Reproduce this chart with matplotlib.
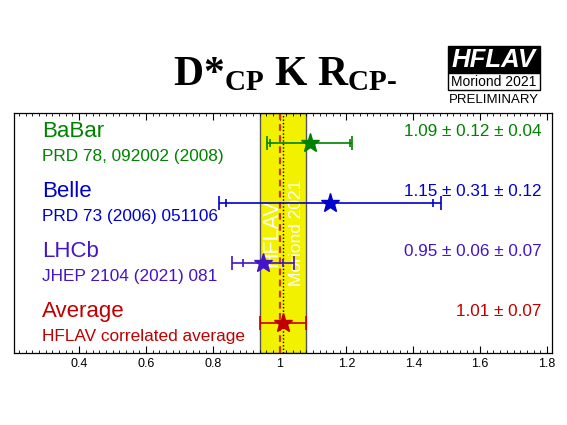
import numpy as np
import matplotlib
matplotlib.use('Agg')
import matplotlib.pyplot as plt
from matplotlib.patches import Rectangle
from matplotlib.ticker import MultipleLocator

# Dados
experimentos = ['BaBar', 'Belle', 'LHCb', 'Average']
referencias = ['PRD 78, 092002 (2008)', 'PRD 73 (2006) 051106',
               'JHEP 2104 (2021) 081', 'HFLAV correlated average']
valores = [1.09, 1.15, 0.95, 1.01]
erro_stat = [0.12, 0.31, 0.06, 0.07]
erro_syst = [0.04, 0.12, 0.07, 0.0]
textos_valor = ['1.09 ± 0.12 ± 0.04', '1.15 ± 0.31 ± 0.12',
                '0.95 ± 0.06 ± 0.07', '1.01 ± 0.07']
cores = ['#008200', '#0000cc', '#4414c8', '#c00000']
media, media_err = 1.01, 0.07
ticks_x = [0.4, 0.6, 0.8, 1.0, 1.2, 1.4, 1.6, 1.8]
ticks_lbl = ['0.4', '0.6', '0.8', '1', '1.2', '1.4', '1.6', '1.8']

plt.rcParams['font.family'] = ['Liberation Sans', 'DejaVu Sans']
plt.rcParams['mathtext.fontset'] = 'custom'
plt.rcParams['mathtext.rm'] = 'Liberation Serif:bold'
plt.rcParams['mathtext.bf'] = 'Liberation Serif:bold'
plt.rcParams['mathtext.it'] = 'Liberation Serif:bold'

fig = plt.figure(figsize=(5.67, 4.25), dpi=100)
ax = fig.add_axes([0.0247, 0.1694, 0.9488, 0.5647])

# Faixa da média
ax.add_patch(Rectangle((media - media_err, 0), 2 * media_err, 4,
                       facecolor='#f2f200', edgecolor='#555555', lw=1.0, zorder=1))
ax.axvline(1.0, color='#cc3a00', ls=(0, (3, 2)), lw=1.6, zorder=2)
ax.axvline(media, color='black', ls=(0, (1, 1.5)), lw=1.0, zorder=2)
ax.text(0.975, 2.0, 'HFLAV', rotation=90, color='white', fontsize=15.5,
        ha='center', va='center', zorder=2)
ax.text(1.05, 2.0, 'Moriond 2021', rotation=90, color='white', fontsize=12.5,
        ha='center', va='center', zorder=2)

ys = [3.5, 2.5, 1.5, 0.5]
for i in range(4):
    y = ys[i]
    v = valores[i]
    tot = np.hypot(erro_stat[i], erro_syst[i])
    c = cores[i]
    ax.errorbar(v, y, xerr=tot, fmt='none', ecolor=c, elinewidth=1.2,
                capsize=5, capthick=1.2, zorder=3)
    if erro_syst[i] > 0:
        ax.plot([v - erro_stat[i], v + erro_stat[i]], [y, y], '|', color=c,
                markersize=6, mew=1.2, zorder=3)
    ax.plot(v, y, marker='*', color=c, markersize=14, zorder=4)
    ax.text(0.289, y + 0.2, experimentos[i], color=c, fontsize=16,
            ha='left', va='center')
    ax.text(0.289, y - 0.23, referencias[i], color=c, fontsize=12.4,
            ha='left', va='center')
    ax.text(1.783, y + 0.2, textos_valor[i], color=c, fontsize=12.3,
            ha='right', va='center')

ax.set_xlim(0.205, 1.815)
ax.set_ylim(0, 4)
ax.set_yticks([])
ax.set_xticks(ticks_x)
ax.set_xticklabels(ticks_lbl)
ax.xaxis.set_minor_locator(MultipleLocator(0.02))
ax.tick_params(axis='x', which='both', direction='in', top=True, labelsize=9)
ax.tick_params(axis='x', which='major', length=5)
ax.tick_params(axis='x', which='minor', length=2.5)
for s in ax.spines.values():
    s.set_linewidth(0.9)

# Título
fig.text(0.502, 0.80, r'D*$_{\mathrm{CP}}$ K R$_{\mathrm{CP\text{-}}}$',
         fontsize=30, fontweight='bold', family='Liberation Serif',
         ha='center', va='baseline')

# Logo HFLAV
fig.patches.append(Rectangle((448 / 567, 1 - 73 / 425), 92 / 567, 27 / 425,
                             transform=fig.transFigure, facecolor='black',
                             edgecolor='black', lw=1))
fig.patches.append(Rectangle((448 / 567, 1 - 90 / 425), 92 / 567, 17 / 425,
                             transform=fig.transFigure, facecolor='white',
                             edgecolor='black', lw=1))
fig.text(494 / 567, 1 - 60 / 425, 'HFLAV', color='white', fontsize=18.5,
         fontweight='bold', style='italic', ha='center', va='center')
fig.text(494 / 567, 1 - 81.5 / 425, 'Moriond 2021', color='black', fontsize=10,
         ha='center', va='center')
fig.text(494 / 567, 1 - 100 / 425, 'PRELIMINARY', color='black', fontsize=9.5,
         ha='center', va='center')

fig.savefig('out.png', dpi=100)
